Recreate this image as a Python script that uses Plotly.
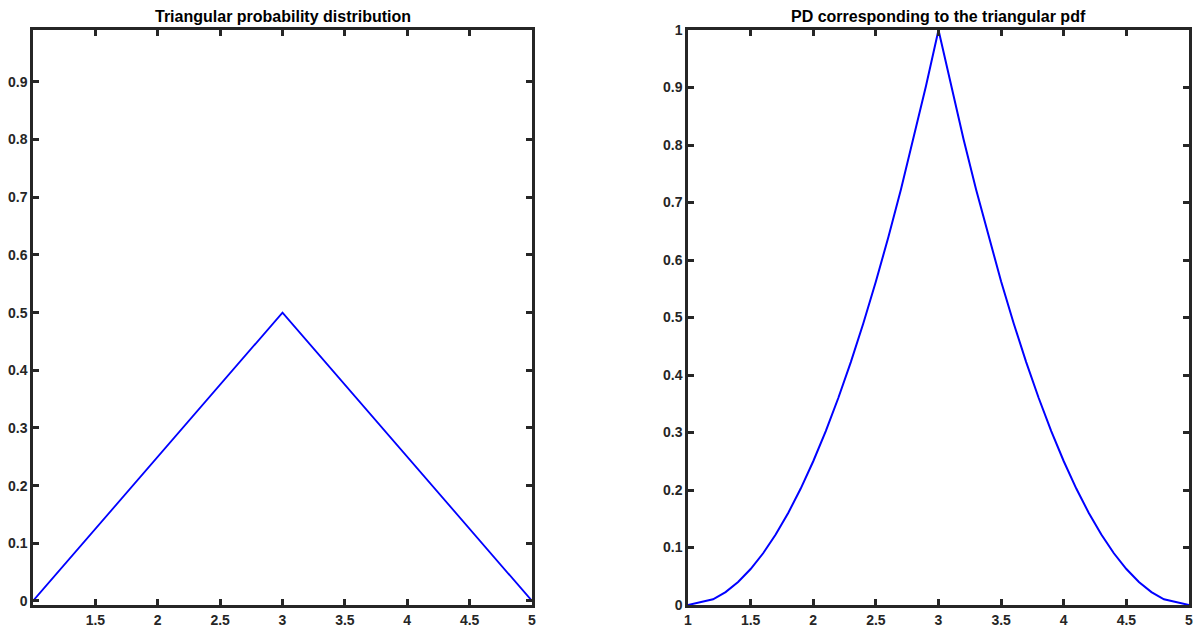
import plotly.graph_objects as go

# Left: triangular probability distribution
tri_x = [1, 3, 5]
tri_y = [0, 0.5, 0]

# Right: PD corresponding to the triangular pdf
pd_x = [1.0, 1.2, 1.3, 1.4, 1.5, 1.6, 1.7, 1.8, 1.9, 2.0, 2.1, 2.2, 2.3, 2.4, 2.5,
        2.6, 2.7, 2.8, 2.9, 3.0, 3.1, 3.2, 3.3, 3.4, 3.5, 3.6, 3.7, 3.8, 3.9, 4.0,
        4.1, 4.2, 4.3, 4.4, 4.5, 4.6, 4.7, 4.8, 5.0]
pd_y = [0, 0.01, 0.0225, 0.04, 0.0625, 0.09, 0.1225, 0.16, 0.2025, 0.25, 0.3025,
        0.36, 0.4225, 0.49, 0.5625, 0.64, 0.7225, 0.81, 0.9025, 1.0, 0.9025, 0.81,
        0.7225, 0.64, 0.5625, 0.49, 0.4225, 0.36, 0.3025, 0.25, 0.2025, 0.16, 0.1225,
        0.09, 0.0625, 0.04, 0.0225, 0.01, 0]

left_xticks = [1.5, 2, 2.5, 3, 3.5, 4, 4.5, 5]
left_yticks = [0, 0.1, 0.2, 0.3, 0.4, 0.5, 0.6, 0.7, 0.8, 0.9]
right_xticks = [1, 1.5, 2, 2.5, 3, 3.5, 4, 4.5, 5]
right_yticks = [0, 0.1, 0.2, 0.3, 0.4, 0.5, 0.6, 0.7, 0.8, 0.9, 1]

titles = ["Triangular probability distribution", "PD corresponding to the triangular pdf"]

W, H = 1197, 627
axcol = "#262626"
FF = "Liberation Sans, Arial, sans-serif"
font = dict(family=FF, size=14, color=axcol)

fig = go.Figure()
fig.add_trace(go.Scatter(x=tri_x, y=tri_y, mode="lines", line=dict(color="#0000FF", width=1.8),
                         xaxis="x", yaxis="y", showlegend=False))
fig.add_trace(go.Scatter(x=pd_x, y=pd_y, mode="lines", line=dict(color="#0000FF", width=2),
                         xaxis="x2", yaxis="y2", showlegend=False))

ydom = [1 - 605 / H, 1 - 30 / H]
common = dict(showline=True, linewidth=2.5, linecolor=axcol, mirror="ticks", ticks="inside",
              ticklen=6, tickwidth=2.5, tickcolor=axcol, showgrid=False, zeroline=False,
              automargin=False, tickfont=dict(family=FF, size=14, color=axcol))


def lab(vals):
    return ["<b>%s</b>" % f"{v:g}" for v in vals]


fig.update_layout(
    width=W, height=H, margin=dict(l=0, r=0, t=0, b=0, pad=0), autosize=False,
    plot_bgcolor="white", paper_bgcolor="white", font=font,
    xaxis=dict(domain=[33 / W, 532 / W], range=[1.0, 5.0], tickvals=left_xticks,
               ticktext=lab(left_xticks), anchor="y", **common),
    yaxis=dict(domain=ydom, range=[-0.007, 0.99], tickvals=left_yticks,
               ticktext=lab(left_yticks), anchor="x", **common),
    xaxis2=dict(domain=[688 / W, 1189 / W], range=[1.0, 5.0], tickvals=right_xticks,
                ticktext=lab(right_xticks), anchor="y2", **common),
    yaxis2=dict(domain=ydom, range=[0, 1.0], tickvals=right_yticks,
                ticktext=lab(right_yticks), anchor="x2", **common),
    annotations=[
        dict(text="<b>%s</b>" % titles[0], x=(33 + 532) / 2 / W, y=1 - 17 / H, xref="paper", yref="paper",
             showarrow=False, font=dict(family=FF, size=16, color="#000000"),
             xanchor="center", yanchor="middle"),
        dict(text="<b>%s</b>" % titles[1], x=(688 + 1189) / 2 / W, y=1 - 17 / H, xref="paper", yref="paper",
             showarrow=False, font=dict(family=FF, size=16, color="#000000"),
             xanchor="center", yanchor="middle"),
    ],
)

fig.write_html("out.html", config={"displayModeBar": False},
               include_plotlyjs=True, full_html=True,
               post_script="document.body.style.margin='0';document.body.style.overflow='hidden';")
